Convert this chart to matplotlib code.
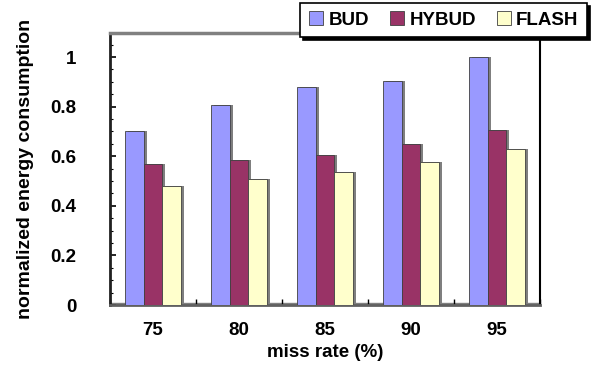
import matplotlib
matplotlib.use("Agg")
import matplotlib.pyplot as plt
import numpy as np
from matplotlib.ticker import MultipleLocator

categories = ["75", "80", "85", "90", "95"]
series_names = ["BUD", "HYBUD", "FLASH"]
bud = [0.70, 0.805, 0.88, 0.905, 1.0]
hybud = [0.57, 0.585, 0.605, 0.65, 0.705]
flash = [0.48, 0.51, 0.535, 0.575, 0.63]
colors = ["#9999ff", "#993366", "#ffffcc"]
yticks = [0, 0.2, 0.4, 0.6, 0.8, 1]
ytick_labels = ["0", "0.2", "0.4", "0.6", "0.8", "1"]

plt.rcParams['font.family'] = ['Liberation Sans', 'DejaVu Sans']
plt.rcParams['font.weight'] = 'bold'

fig = plt.figure(figsize=(5.92, 3.71), dpi=100)
ax = fig.add_axes([110/592, 1-305/371, 430/592, 272/371])

x = np.arange(len(categories))
w = 0.22
for i, (vals, c) in enumerate(zip([bud, hybud, flash], colors)):
    xs = x + (i - 1) * w
    ax.bar(xs + 0.035, vals, w, bottom=0, color="#7f7f7f", edgecolor="none", zorder=2)
    ax.bar(xs, vals, w, color=c, edgecolor="#404040", linewidth=0.6, zorder=3,
           label=series_names[i])

ax.axhspan(-0.008, 0.008, color="#808080", zorder=1)

ax.set_xlim(-0.5, 4.5)
ax.set_ylim(0, 1.097)
ax.set_yticks(yticks)
ax.set_yticklabels(ytick_labels, fontsize=13.5, fontweight='bold')
ax.yaxis.set_minor_locator(MultipleLocator(0.05))
ax.tick_params(axis='y', which='major', direction='in', length=4, width=1.2, pad=24)
ax.tick_params(axis='y', which='minor', direction='in', length=2, width=0.8)
ax.set_xticks(x)
ax.set_xticklabels(categories, fontsize=13.5, fontweight='bold')
ax.set_xticks(np.arange(-0.5, 5, 1), minor=True)
ax.tick_params(axis='x', which='both', direction='in', length=4, width=1.0, pad=12)

ax.set_ylabel("normalized energy consumption", fontsize=14, fontweight='bold', labelpad=12)
ax.set_xlabel("miss rate (%)", fontsize=13.5, fontweight='bold', labelpad=4)

ax.spines['left'].set_linewidth(2)
ax.spines['left'].set_color("#202020")
ax.spines['top'].set_color("#808080")
ax.spines['top'].set_linewidth(2.5)
ax.spines['right'].set_linewidth(1.5)
ax.spines['bottom'].set_color("#606060")
ax.spines['bottom'].set_linewidth(2)

leg = fig.legend(loc='upper right', bbox_to_anchor=(587/592, 1-3/371), ncol=3,
                 frameon=True, fancybox=False, shadow={'color': 'black', 'alpha': 1},
                 handlelength=0.75, handleheight=0.75, handletextpad=0.3,
                 columnspacing=1.1, borderpad=0.45, borderaxespad=0,
                 prop={'weight': 'bold', 'size': 13.5})
leg.get_frame().set_edgecolor("black")
leg.get_frame().set_linewidth(1.2)

fig.savefig("out.png", dpi=100)
